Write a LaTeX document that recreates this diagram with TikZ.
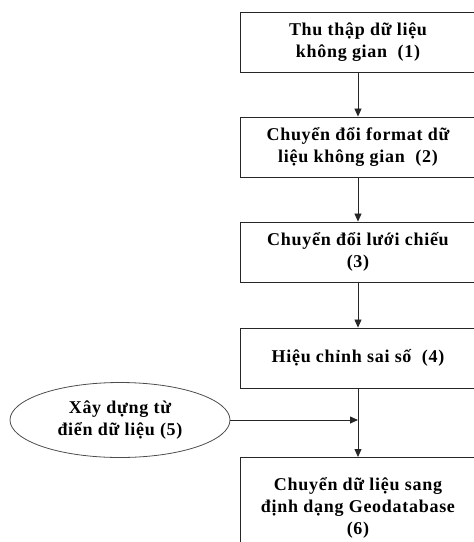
\documentclass[tikz,border=0pt]{standalone}
\usepackage{fontspec}
\setmainfont{Liberation Serif}[LetterSpace=4]
\usetikzlibrary{arrows.meta,shapes.geometric}
\begin{document}
\begin{tikzpicture}[x=1pt,y=-1pt,
  stepbox/.style={draw=black!85,line width=0.9pt,minimum width=236pt,minimum height=60pt,
    align=center,font=\bfseries\fontsize{18}{22}\selectfont,inner sep=2pt},
  elbox/.style={ellipse,draw=black!70,line width=0.8pt,minimum width=220pt,minimum height=75pt,
    align=center,font=\bfseries\fontsize{18}{22}\selectfont,inner sep=0pt},
  conn/.style={draw=black!85,line width=0.8pt,-{Triangle[length=8pt,width=7pt]}}]
\useasboundingbox (0,0) rectangle (474,542);
\clip (0,0) rectangle (474,542);
\node[stepbox] (s1) at (358,42) {Thu thập dữ liệu\\không gian\ \ (1)};
\node[stepbox] (s2) at (358,147) {Chuyển đổi format dữ\\liệu không gian\ \ (2)};
\node[stepbox] (s3) at (358,252) {Chuyển đổi lưới chiếu\\(3)};
\node[stepbox] (s4) at (358,358) {Hiệu chỉnh sai số\ \ (4)};
\node[stepbox,minimum height=100pt,anchor=north] (s6) at (358,457) {Chuyển dữ liệu sang\\định dạng Geodatabase\\(6)};
\node[elbox] (e5) at (120,420) {Xây dựng từ\\điển dữ liệu (5)};
\coordinate (j) at (s4.south |- e5.east);
\draw[conn] (s1) -- (s2);
\draw[conn] (s2) -- (s3);
\draw[conn] (s3) -- (s4);
\draw[conn] (s4) -- (s6);
\draw[conn] (e5) -- (j);
\end{tikzpicture}
\end{document}
